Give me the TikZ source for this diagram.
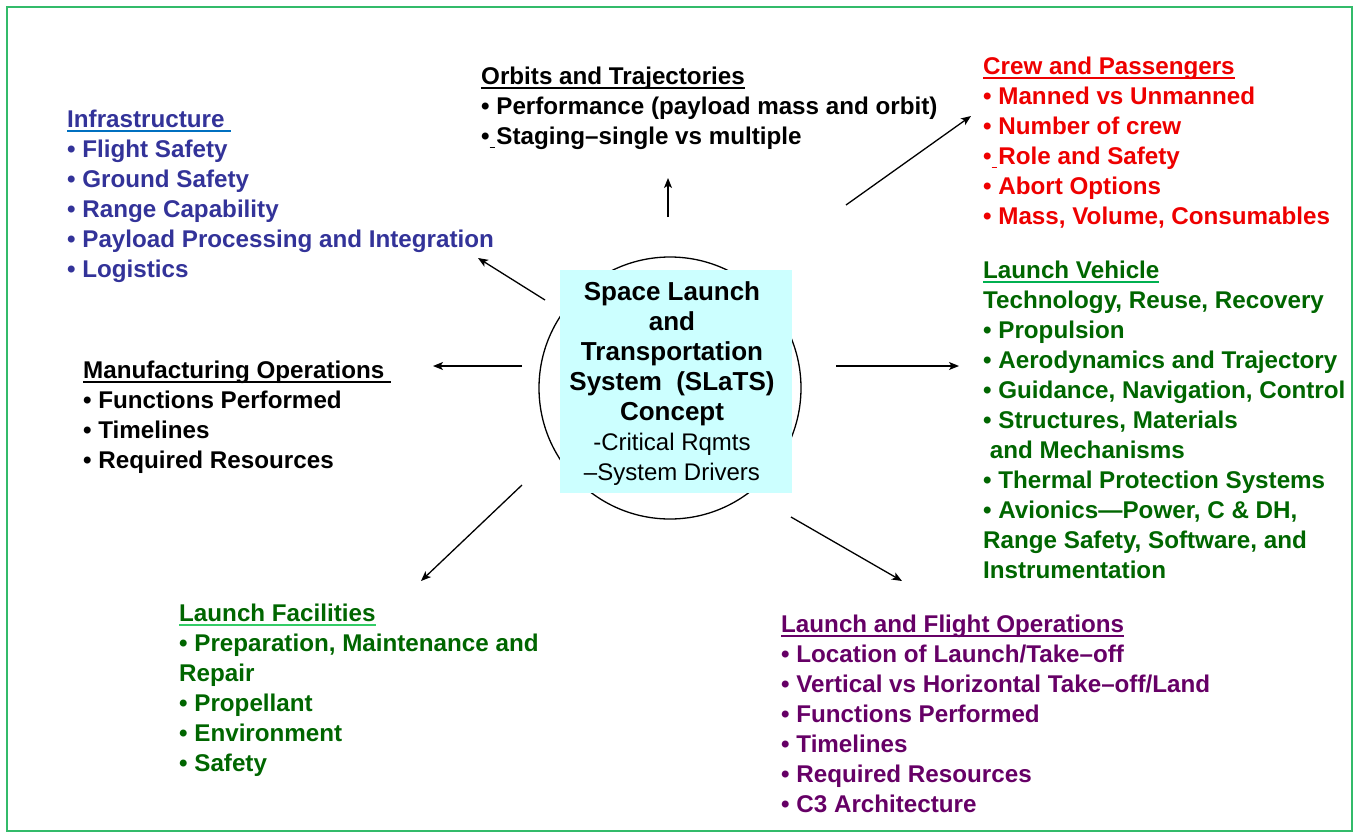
\documentclass[tikz,border=0pt]{standalone}
\usepackage{fontspec}
\setmainfont{Liberation Sans}
\usetikzlibrary{arrows.meta}
\definecolor{frame}{HTML}{33BB6A}
\definecolor{boxfill}{HTML}{CCFFFF}
\definecolor{infra}{HTML}{333399}
\definecolor{infraul}{HTML}{0070C0}
\definecolor{crew}{HTML}{EE0000}
\definecolor{dkgreen}{HTML}{006600}
\definecolor{lvul}{HTML}{00B050}
\definecolor{lful}{HTML}{33CC66}
\definecolor{purp}{HTML}{660066}
\newcommand\hdl[2]{\setbox0\hbox{#2}\rlap{\color{#1}\rule[-4.5pt]{\wd0}{2pt}}\box0}
\newcommand\usp{\rlap{\rule[-4pt]{5pt}{1pt}}\ }
\newcommand\bigb[1]{{\fontsize{26}{30}\selectfont\bfseries #1}}
\tikzset{
  blk/.style={anchor=base west, inner sep=0pt, align=left, font=\fontsize{24.2}{30}\selectfont\bfseries},
  arr/.style={-{Stealth[length=10pt,width=8pt,inset=2.5pt]}, line width=1.3pt}
}
\begin{document}
\begin{tikzpicture}[x=1pt,y=-1pt]
\useasboundingbox (0,0) rectangle (1353,833);
\draw[frame, line width=2pt] (7,7) rectangle (1352,831);

% center (anchors at the baseline of the last line)
\node[draw, circle, line width=1.3pt, minimum size=262pt, inner sep=0pt] (circ) at (670,388) {};
\node[fill=boxfill, minimum width=232pt, minimum height=223pt, inner sep=0pt] (box) at (676,381.5) {};
\node[anchor=base, inner sep=0pt, align=center, font=\fontsize{24}{30}\selectfont] (ctext) at (672,480)
  {\bigb{Space Launch}\\ \bigb{and}\\ \bigb{Transportation}\\ \bigb{System\ \ (SLaTS)}\\ \bigb{Concept}\\ -Critical Rqmts\\ –System Drivers};

% blocks
\node[blk] (orb) at (481,144) {\hdl{black}{Orbits and Trajectories}\\
  • Performance (payload mass and orbit)\\
  •\usp Staging–single vs multiple};

\node[blk, text=infra] (inf) at (67,277) {\hdl{infraul}{Infrastructure\ }\\
  • Flight Safety\\ • Ground Safety\\ • Range Capability\\
  • Payload Processing and Integration\\ • Logistics};

\node[blk, text=crew] (crw) at (983,224) {\hdl{crew}{Crew and Passengers}\\
  • Manned vs Unmanned\\ • Number of crew\\ •\usp Role and Safety\\
  • Abort Options\\ • Mass, Volume, Consumables};

\node[blk, text=dkgreen] (lv) at (983,578) {\hdl{lvul}{Launch Vehicle}\\
  Technology, Reuse, Recovery\\ • Propulsion\\ • Aerodynamics and Trajectory\\
  • Guidance, Navigation, Control\\ • Structures, Materials\\ \ and Mechanisms\\
  • Thermal Protection Systems\\ • Avionics—Power, C \& DH,\\
  Range Safety, Software, and\\ Instrumentation};

\node[blk] (mfg) at (83,468) {\hdl{black}{Manufacturing Operations\ }\\
  • Functions Performed\\ • Timelines\\ • Required Resources};

\node[blk, text=dkgreen] (lf) at (179,771) {\hdl{lful}{Launch Facilities}\\
  • Preparation, Maintenance and\\ Repair\\ • Propellant\\ • Environment\\ • Safety};

\node[blk, text=purp] (lfo) at (781,812) {\hdl{purp}{Launch and Flight Operations}\\
  • Location of Launch/Take–off\\ • Vertical vs Horizontal Take–off/Land\\
  • Functions Performed\\ • Timelines\\ • Required Resources\\ • C3 Architecture};

% arrows
\coordinate (s1) at (668,217); \coordinate (e1) at (668,178);
\coordinate (s2) at (545,300); \coordinate (e2) at (478,258);
\coordinate (s3) at (522,366); \coordinate (e3) at (433,366);
\coordinate (s4) at (846,205); \coordinate (e4) at (971,116);
\coordinate (s5) at (836,366); \coordinate (e5) at (959,366);
\coordinate (s6) at (522,485); \coordinate (e6) at (421,581);
\coordinate (s7) at (791,517); \coordinate (e7) at (902,581);
\draw[arr] (s1) -- (e1);
\draw[arr] (s2) -- (e2);
\draw[arr] (s3) -- (e3);
\draw[arr] (s4) -- (e4);
\draw[arr] (s5) -- (e5);
\draw[arr] (s6) -- (e6);
\draw[arr] (s7) -- (e7);
\end{tikzpicture}
\end{document}
